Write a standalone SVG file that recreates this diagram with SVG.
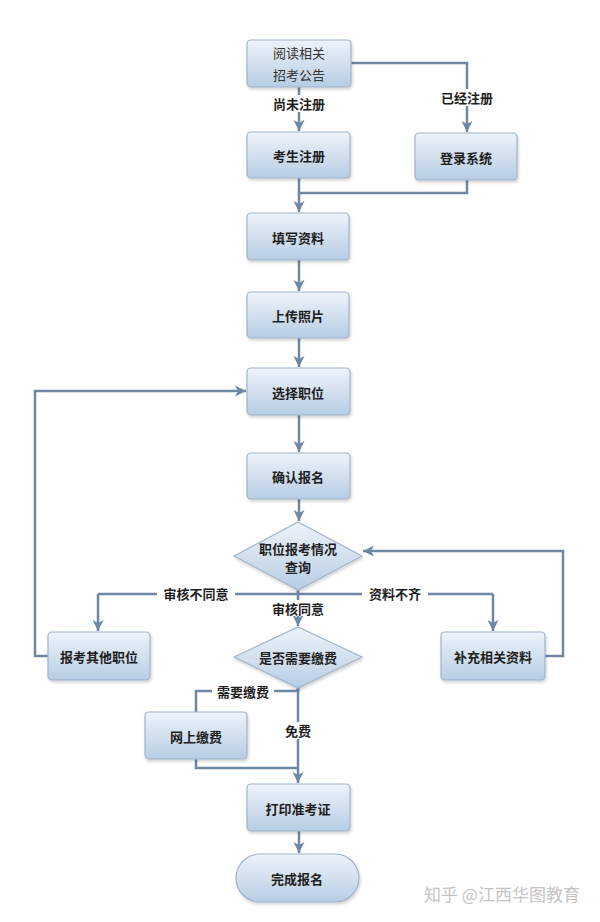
<svg xmlns="http://www.w3.org/2000/svg" width="600" height="922" viewBox="0 0 600 922">
<defs>
<linearGradient id="g" x1="0" y1="0" x2="0" y2="1">
<stop offset="0" stop-color="#eef3f9"/>
<stop offset="1" stop-color="#b7cde4"/>
</linearGradient>
<marker id="a" markerUnits="userSpaceOnUse" markerWidth="12" markerHeight="12" viewBox="0 0 12 12" refX="11" refY="6" orient="auto">
<path d="M0,0.5 L11,6 L0,11.5 L3,6 Z" fill="#6e87a2"/>
</marker>
<filter id="s" x="-10%" y="-10%" width="125%" height="130%">
<feDropShadow dx="1" dy="2" stdDeviation="1.5" flood-color="#000" flood-opacity="0.18"/>
</filter>
</defs>
<style>
.n{fill:url(#g);stroke:#9fb4cb;stroke-width:1.2;filter:url(#s)}
.t{font-family:"Noto Sans CJK SC",sans-serif;font-weight:bold;font-size:13px;fill:#1e1e1e;text-anchor:middle;dominant-baseline:central}
.c{fill:none;stroke:#6e87a2;stroke-width:2.5}
.ca{fill:none;stroke:#6e87a2;stroke-width:2.5;marker-end:url(#a)}
.lb{fill:#fff}
.w{font-family:"Noto Sans CJK SC",sans-serif;font-size:17px;fill:#c4c4c4;text-anchor:middle;dominant-baseline:central}
</style>
<rect width="600" height="922" fill="#fff"/>
<g id="connectors">
<path class="ca" d="M299,87 V131"/>
<path class="ca" d="M350,63 H467 V132"/>
<path class="c" d="M299,178 V193 M467,180 V193 H299"/>
<path class="ca" d="M299,193 V212"/>
<path class="ca" d="M299,260 V291"/>
<path class="ca" d="M299,338 V367"/>
<path class="ca" d="M299,415 V452"/>
<path class="ca" d="M299,499 V521"/>
<path class="c" d="M298,590 V594 M98,594 H493"/>
<path class="ca" d="M98,594 V631"/>
<path class="ca" d="M493,594 V631"/>
<path class="ca" d="M298,594 V626"/>
<path class="ca" d="M545,656 H563 V551 H363"/>
<path class="ca" d="M48,656 H35 V391 H246"/>
<path class="c" d="M298,688 V691 H196 V712"/>
<path class="c" d="M196,759 V768 H298"/>
<path class="ca" d="M298,688 V783"/>
<path class="ca" d="M299,831 V853"/>
</g>
<g id="labels">
<rect class="lb" x="268" y="95" width="62" height="17"/>
<text class="t" x="299" y="103">尚未注册</text>
<rect class="lb" x="436" y="89" width="62" height="17"/>
<text class="t" x="467" y="97">已经注册</text>
<rect class="lb" x="157" y="585" width="78" height="17"/>
<text class="t" x="196" y="593">审核不同意</text>
<rect class="lb" x="362" y="585" width="66" height="17"/>
<text class="t" x="395" y="593">资料不齐</text>
<rect class="lb" x="267" y="600" width="62" height="16"/>
<text class="t" x="298" y="608">审核同意</text>
<rect class="lb" x="212" y="683" width="62" height="17"/>
<text class="t" x="243" y="691">需要缴费</text>
<rect class="lb" x="282" y="722" width="32" height="17"/>
<text class="t" x="298" y="730">免费</text>
</g>
<g id="n1"><rect class="n" x="247" y="40" width="104" height="47" rx="4"/><text class="t" x="299" y="52" style="font-weight:normal;fill:#333">阅读相关</text><text class="t" x="299" y="74" style="font-weight:normal;fill:#333">招考公告</text></g>
<g id="n2"><rect class="n" x="247" y="132" width="103" height="46" rx="4"/><text class="t" x="299" y="155">考生注册</text></g>
<g id="n3"><rect class="n" x="415" y="133" width="102" height="47" rx="4"/><text class="t" x="466" y="157">登录系统</text></g>
<g id="n4"><rect class="n" x="247" y="213" width="102" height="47" rx="4"/><text class="t" x="298" y="237">填写资料</text></g>
<g id="n5"><rect class="n" x="247" y="292" width="102" height="46" rx="4"/><text class="t" x="298" y="315">上传照片</text></g>
<g id="n6"><rect class="n" x="247" y="368" width="103" height="47" rx="4"/><text class="t" x="298" y="392">选择职位</text></g>
<g id="n7"><rect class="n" x="247" y="453" width="103" height="46" rx="4"/><text class="t" x="298" y="476">确认报名</text></g>
<g id="n8"><path class="n" d="M298,522 L362,556 L298,590 L234,556 Z"/><text class="t" x="298" y="548">职位报考情况</text><text class="t" x="298" y="566">查询</text></g>
<g id="n9"><rect class="n" x="48" y="632" width="102" height="48" rx="4"/><text class="t" x="99" y="656">报考其他职位</text></g>
<g id="n10"><rect class="n" x="441" y="632" width="104" height="48" rx="4"/><text class="t" x="493" y="656">补充相关资料</text></g>
<g id="n11"><path class="n" d="M298,627 L362,657 L298,688 L234,657 Z"/><text class="t" x="298" y="657">是否需要缴费</text></g>
<g id="n12"><rect class="n" x="145" y="712" width="102" height="47" rx="4"/><text class="t" x="196" y="736">网上缴费</text></g>
<g id="n13"><rect class="n" x="247" y="784" width="103" height="47" rx="4"/><text class="t" x="298" y="808">打印准考证</text></g>
<g id="n14"><rect class="n" x="236" y="854" width="123" height="48" rx="24"/><text class="t" x="297" y="878">完成报名</text></g>
<text class="w" x="502" y="893">知乎 @江西华图教育</text>
</svg>
